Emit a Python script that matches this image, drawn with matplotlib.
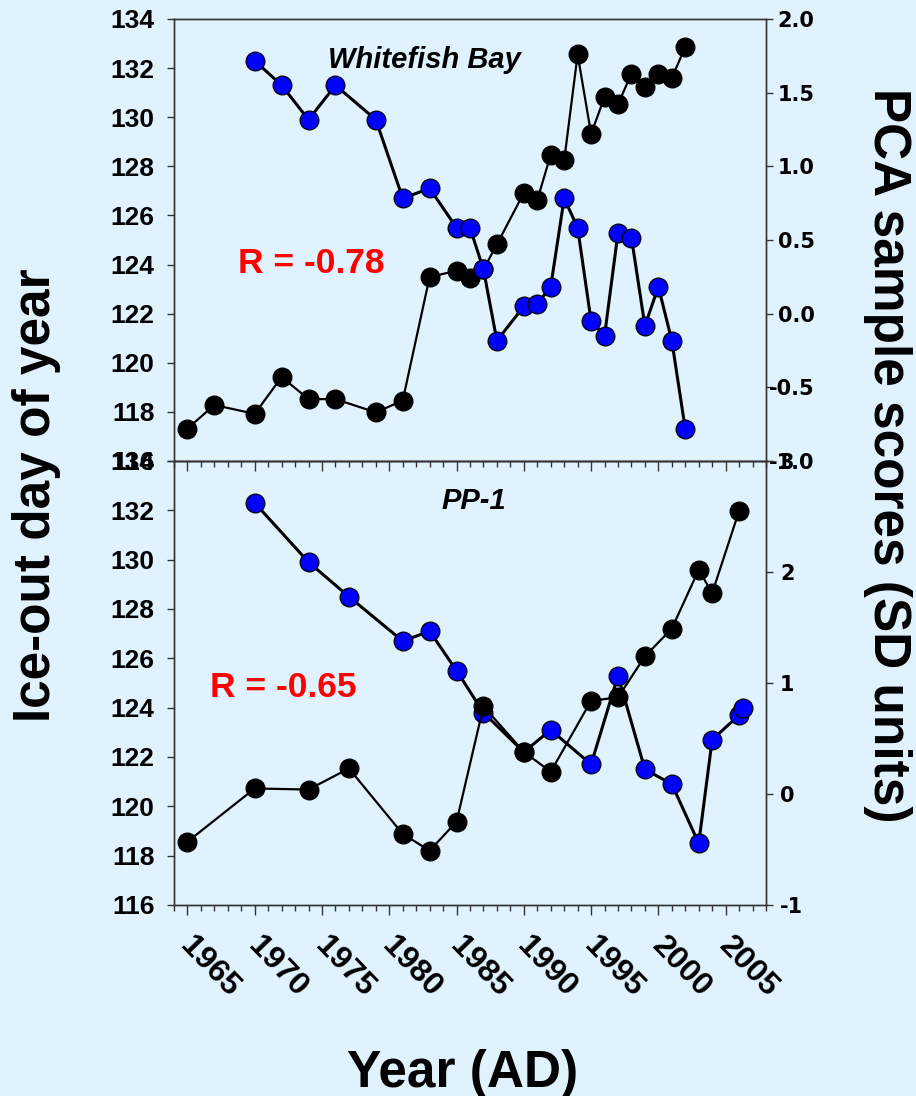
import matplotlib
matplotlib.use("Agg")
import matplotlib.pyplot as plt
import matplotlib.transforms as mtransforms
from matplotlib.ticker import MultipleLocator, FixedLocator

# ---------------- data ----------------
top_ice_years = [1970, 1972, 1974, 1976, 1979, 1981, 1983, 1985, 1986, 1987, 1988,
                 1990, 1991, 1992, 1993, 1994, 1995, 1996, 1997, 1998, 1999, 2000,
                 2001, 2002]
top_ice_days = [132.3, 131.3, 129.9, 131.3, 129.9, 126.7, 127.1, 125.5, 125.5, 123.8,
                120.9, 122.3, 122.4, 123.1, 126.7, 125.5, 121.7, 121.1, 125.3, 125.1,
                121.5, 123.1, 120.9, 117.3]

top_pca_years = [1965, 1967, 1970, 1972, 1974, 1976, 1979, 1981, 1983, 1985, 1986,
                 1987, 1988, 1990, 1991, 1992, 1993, 1994, 1995, 1996, 1997, 1998,
                 1999, 2000, 2001, 2002]
top_pca_scores = [-0.78, -0.62, -0.68, -0.43, -0.58, -0.58, -0.67, -0.59, 0.25, 0.29,
                  0.24, 0.30, 0.47, 0.82, 0.77, 1.08, 1.04, 1.76, 1.22, 1.47, 1.42,
                  1.63, 1.54, 1.63, 1.60, 1.81]

bot_ice_years = [1970, 1974, 1977, 1981, 1983, 1985, 1987, 1990, 1992, 1995, 1997,
                 1999, 2001, 2003, 2004, 2006, 2006.3]
bot_ice_days = [132.3, 129.9, 128.5, 126.7, 127.1, 125.5, 123.8, 122.2, 123.1, 121.7,
                125.3, 121.5, 120.9, 118.5, 122.7, 123.7, 124.0]

bot_pca_years = [1965, 1970, 1974, 1977, 1981, 1983, 1985, 1987, 1990, 1992, 1995,
                 1997, 1999, 2001, 2003, 2004, 2006]
bot_pca_scores = [-0.43, 0.05, 0.04, 0.23, -0.36, -0.51, -0.25, 0.79, 0.38, 0.20, 0.84,
                  0.87, 1.24, 1.49, 2.02, 1.81, 2.55]

panel_titles = ["Whitefish Bay", "PP-1"]
r_labels = ["R = -0.78", "R = -0.65"]
x_ticks = [1965, 1970, 1975, 1980, 1985, 1990, 1995, 2000, 2005]
left_ticks = list(range(116, 135, 2))
top_right_ticks = [-1.0, -0.5, 0.0, 0.5, 1.0, 1.5, 2.0]
bot_right_ticks = [-1, 0, 1, 2, 3]

# ---------------- style ----------------
BG = "#E0F2FE"
SPINE = "#333333"
W, H = 916, 1096
SANS = ["Liberation Sans", "DejaVu Sans"]
plt.rcParams["font.family"] = SANS

fig = plt.figure(figsize=(W / 100, H / 100), dpi=100, facecolor=BG)


def px_rect(x0, y0, x1, y1):
    return [x0 / W, 1 - y1 / H, (x1 - x0) / W, (y1 - y0) / H]


ax_top = fig.add_axes(px_rect(174, 19, 766, 461))
ax_bot = fig.add_axes(px_rect(174, 461, 766, 905))
ax_top2 = ax_top.twinx()
ax_bot2 = ax_bot.twinx()

for a in (ax_top, ax_bot, ax_top2, ax_bot2):
    a.patch.set_visible(False)
    for s in a.spines.values():
        s.set_color(SPINE)
        s.set_linewidth(1.0)

marker_kw = dict(marker="o", markersize=13.5, markeredgecolor="black",
                 markeredgewidth=0.9, color="black")

# top panel: blue drawn above black
ax_top.set_zorder(3)
ax_top2.set_zorder(2)
ax_top.plot(top_ice_years, top_ice_days, lw=2.2, markerfacecolor="#0000FF", **marker_kw)
ax_top2.plot(top_pca_years, top_pca_scores, lw=1.6, markerfacecolor="black", **marker_kw)

# bottom panel: black drawn above blue
ax_bot.set_zorder(2)
ax_bot2.set_zorder(3)
ax_bot.plot(bot_ice_years, bot_ice_days, lw=2.2, markerfacecolor="#0000FF", **marker_kw)
ax_bot2.plot(bot_pca_years, bot_pca_scores, lw=1.6, markerfacecolor="black", **marker_kw)

for a in (ax_top, ax_bot, ax_top2, ax_bot2):
    a.set_xlim(1964, 2008)
    a.xaxis.set_major_locator(FixedLocator(x_ticks))
    a.xaxis.set_minor_locator(MultipleLocator(1))

for a in (ax_top, ax_bot):
    a.set_ylim(116, 134)
    a.set_yticks(left_ticks)
    a.set_yticklabels([str(v) for v in left_ticks], fontsize=19, fontweight="bold",
                      family=SANS)
    a.tick_params(axis="y", which="major", direction="out", length=5, width=1,
                  color=SPINE, pad=9, left=True, right=False)
    a.tick_params(axis="x", which="major", direction="out", length=7, width=1, color=SPINE)
    a.tick_params(axis="x", which="minor", direction="out", length=4, width=1, color=SPINE)

# top right axis: labels right-aligned
ax_top2.set_ylim(-1.0, 2.0)
ax_top2.set_yticks(top_right_ticks)
ax_top2.set_yticklabels([f"{v:.1f}" for v in top_right_ticks], fontsize=15,
                        fontweight="bold", family=["DejaVu Sans"], ha="right")
ax_top2.tick_params(axis="y", which="major", direction="out", length=5, width=1,
                    color=SPINE, pad=30)

ax_bot2.set_ylim(-1, 3)
ax_bot2.set_yticks(bot_right_ticks)
ax_bot2.set_yticklabels([str(v) for v in bot_right_ticks], fontsize=15,
                        fontweight="bold", family=["DejaVu Sans"])
ax_bot2.tick_params(axis="y", which="major", direction="out", length=5, width=1,
                    color=SPINE, pad=5)
for a in (ax_top2, ax_bot2):
    a.tick_params(axis="x", which="both", bottom=False, top=False,
                  labelbottom=False, labeltop=False)

ax_top.tick_params(axis="x", which="both", labelbottom=False)
ax_bot.tick_params(axis="x", which="both", top=False)

ax_bot.set_xticklabels([str(v) for v in x_ticks], rotation=-46, ha="left", va="top",
                       fontsize=23, fontweight="bold", family=SANS)
ax_bot.tick_params(axis="x", which="major", pad=12)
offset = mtransforms.ScaledTranslation(-13 / 100, 0, fig.dpi_scale_trans)
for lab in ax_bot.get_xticklabels():
    lab.set_transform(lab.get_transform() + offset)

# panel texts
ax_top.text(0.4235, 0.889, panel_titles[0], transform=ax_top.transAxes, ha="center",
            va="baseline", fontsize=21, fontweight="bold", fontstyle="italic")
ax_bot.text(0.506, 0.892, panel_titles[1], transform=ax_bot.transAxes, ha="center",
            va="baseline", fontsize=21, fontweight="bold", fontstyle="italic")
ax_top.text(0.108, 0.4247, r_labels[0], transform=ax_top.transAxes, ha="left",
            va="baseline", fontsize=25.5, fontweight="bold", color="#FF0000")
ax_bot.text(0.0608, 0.468, r_labels[1], transform=ax_bot.transAxes, ha="left",
            va="baseline", fontsize=25.5, fontweight="bold", color="#FF0000")

# axis titles
fig.text(37 / W, 1 - 495 / H, "Ice-out day of year", rotation=90, ha="center",
         va="center", fontsize=37, fontweight="bold")
fig.text(887 / W, 1 - 455 / H, "PCA sample scores (SD units)", rotation=-90,
         ha="center", va="center", fontsize=37, fontweight="bold")
fig.text(463 / W, 1 - 1087 / H, "Year (AD)", ha="center", va="baseline",
         fontsize=37, fontweight="bold")

fig.savefig("out.png", dpi=100, facecolor=BG)
